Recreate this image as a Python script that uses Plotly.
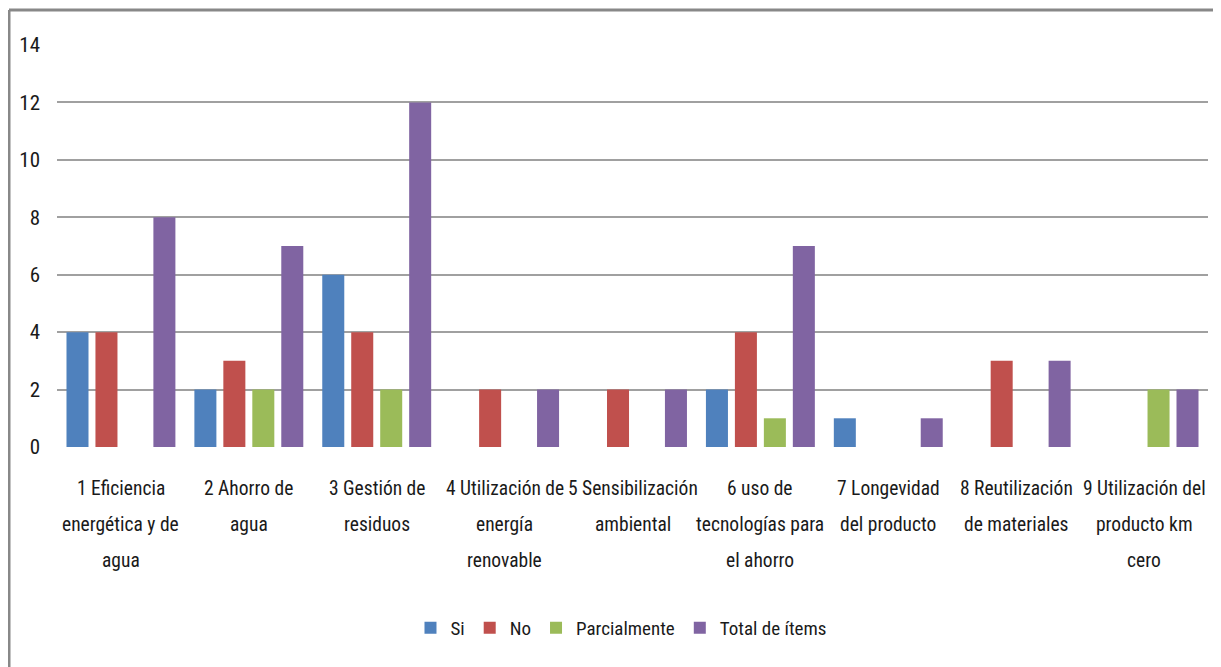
import plotly.graph_objects as go

categories = [
    "1 Eficiencia<br>energética y de<br>agua",
    "2 Ahorro de<br>agua",
    "3 Gestión de<br>residuos",
    "4 Utilización de<br>energía<br>renovable",
    "5 Sensibilización<br>ambiental",
    "6 uso de<br>tecnologías para<br>el ahorro",
    "7 Longevidad<br>del producto",
    "8 Reutilización<br>de materiales",
    "9 Utilización del<br>producto km<br>cero",
]
si = [4, 2, 6, 0, 0, 2, 1, 0, 0]
no = [4, 3, 4, 2, 2, 4, 0, 3, 0]
parcialmente = [0, 2, 2, 0, 0, 1, 0, 0, 2]
total = [8, 7, 12, 2, 2, 7, 1, 3, 2]
y_ticks = [0, 2, 4, 6, 8, 10, 12, 14]

FONT = "Roboto Condensed, Liberation Sans Narrow, Arial Narrow, sans-serif"
TXT = "#1a1a1a"
x_idx = list(range(len(categories)))

fig = go.Figure()
series = [("Si", si, "#4F81BD"), ("No", no, "#C0504D"),
          ("Parcialmente", parcialmente, "#9BBB59"), ("Total de ítems", total, "#8064A2")]
for name, vals, col in series:
    fig.add_trace(go.Bar(x=x_idx, y=vals, name=name, marker_color=col, marker_line_width=0))

annotations = []
for i, lab in enumerate(categories):
    for j, line in enumerate(lab.split("<br>")):
        annotations.append(dict(x=i, y=0, xref="x", yref="paper", text=line, showarrow=False,
                                yanchor="middle", xanchor="center", yshift=-41 - 36 * j,
                                font=dict(family=FONT, size=19.5, color=TXT)))

W, H = 1213, 659
L, R, T, B = 49, 13, 37, 220
pw, ph = W - L - R, H - T - B

fig.update_layout(
    width=W, height=H,
    margin=dict(l=L, r=R, t=T, b=B),
    paper_bgcolor="white", plot_bgcolor="white",
    barmode="group", bargap=0.094, bargroupgap=0.24,
    font=dict(family=FONT, size=19.5, color=TXT),
    xaxis=dict(tickvals=x_idx, showticklabels=False, range=[-0.5, 8.5], showgrid=False,
               zeroline=False, showline=False),
    yaxis=dict(range=[0, 14], tickvals=y_ticks, showgrid=True, gridcolor="#a0a0a0", gridwidth=1.5,
               zeroline=False, showline=False, ticks="", ticklabelstandoff=16,
               tickfont=dict(family=FONT, size=21, color=TXT)),
    legend=dict(orientation="h", x=0.49, xanchor="center", y=-(620 - T - ph) / ph, yanchor="middle",
                font=dict(family=FONT, size=19, color=TXT), itemwidth=30, traceorder="normal"),
    annotations=annotations,
    shapes=[
        dict(type="line", xref="paper", yref="paper", x0=(1 - L) / pw, x1=1.02,
             y0=(T + ph - 2) / ph, y1=(T + ph - 2) / ph, line=dict(color="#888", width=3)),
        dict(type="line", xref="paper", yref="paper", x0=(1 - L) / pw, x1=(1 - L) / pw,
             y0=(T + ph - 2) / ph, y1=-B / ph, line=dict(color="#888", width=3)),
    ],
)
fig.write_html("out.html")
